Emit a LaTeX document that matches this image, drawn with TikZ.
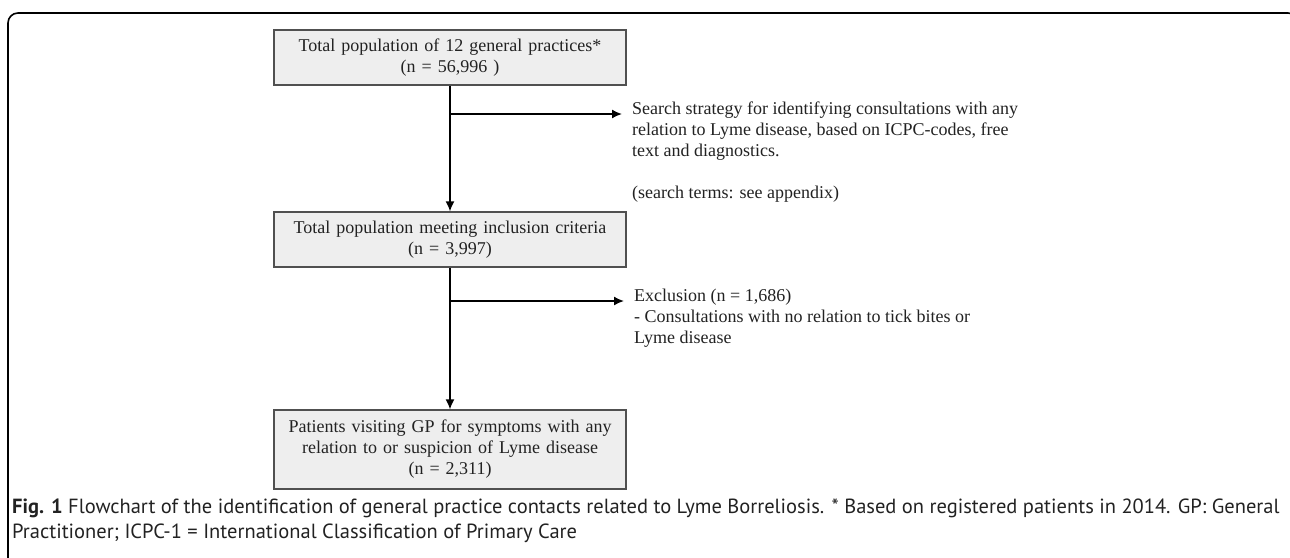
\documentclass[tikz,border=0pt]{standalone}
\usepackage{fontspec}
\setmainfont{Liberation Serif}
\newfontfamily\captionfont{PT Sans}
\usetikzlibrary{arrows.meta}
\usetikzlibrary{calc}

\definecolor{boxfill}{HTML}{EEEEEE}
\definecolor{boxline}{HTML}{505050}
\definecolor{inkgray}{HTML}{222222}

\tikzset{
    stagebox/.style={draw=boxline,fill=boxfill,line width=1.2pt,minimum width=352pt,
        text width=344pt,align=center,inner sep=0pt,text=inkgray,
        font=\fontsize{18}{21}\selectfont},
    sidenote/.style={align=left,anchor=base west,inner xsep=10pt,inner ysep=0pt,
        text=inkgray,font=\fontsize{18}{21}\selectfont},
    flow/.style={line width=1.6pt,-{Latex[length=10pt,width=9pt]}},
}

\begin{document}
\begin{tikzpicture}[x=1pt,y=1pt]
    \useasboundingbox (0,0) rectangle (1290,-557);
    \clip (0,0) rectangle (1290,-557);

    % Frame round the figure:
    \draw [line width=1.6pt,rounded corners=10pt] (8,-590) -- (8,-13) -- (1298,-13) -- (1298,-590);

    % Boxes:
    \node [stagebox,minimum height=55pt] (total) at (450,-57.5)
        {Total population of 12 general practices*\\(n = 56,996 )};
    \node [stagebox,minimum height=55pt] (meet) at (450,-239.5)
        {Total population meeting inclusion criteria\\(n = 3,997)};
    \node [stagebox,minimum height=79pt] (patients) at (450,-449.5)
        {Patients visiting GP for symptoms with any\\relation to or suspicion of Lyme disease\\(n = 2,311)};

    % Side texts (placed by the baseline of their last line):
    \node [sidenote] (search) at (622,-198)
        {Search strategy for identifying consultations with any\\
         relation to Lyme disease, based on ICPC-codes, free\\
         text and diagnostics.\\[21pt]
         (search terms: see appendix)};
    \node [sidenote] (exclusion) at (624,-343)
        {Exclusion (n = 1,686)\\
         - Consultations with no relation to tick bites or\\
         Lyme disease};

    % Arrows:
    \coordinate (split1) at (450,-114);
    \coordinate (split2) at (450,-301);
    \draw [flow] (total.south) -- (meet.north);
    \draw [flow] (meet.south) -- (patients.north);
    \draw [flow] (split1) -- (split1 -| search.west);
    \draw [flow] (split2) -- (split2 -| exclusion.west);

    % Caption:
    \node [anchor=base west,align=left,inner sep=0pt,text=inkgray,
        font=\captionfont\fontsize{20.5}{25}\selectfont] (caption) at (12,-538)
        {\textbf{Fig. 1} Flowchart of the identification of general practice contacts related to Lyme Borreliosis. * Based on registered patients in 2014. GP: General\\
         Practitioner; ICPC-1 = International Classification of Primary Care};
\end{tikzpicture}
\end{document}
